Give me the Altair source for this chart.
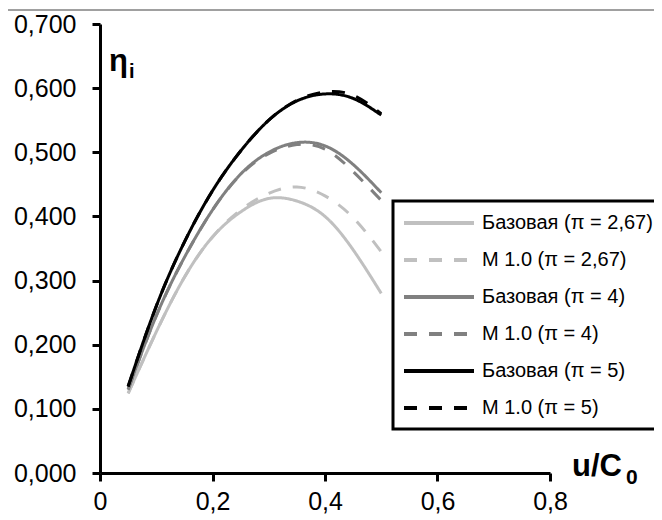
import altair as alt
import pandas as pd

# ---- data ----
u_c0 = [0.05, 0.10, 0.15, 0.20, 0.25, 0.30, 0.35, 0.40, 0.45, 0.50]

base_267 = [0.124, 0.220, 0.305, 0.368, 0.407, 0.428, 0.424, 0.400, 0.348, 0.280]
m10_267  = [0.124, 0.220, 0.305, 0.368, 0.410, 0.436, 0.446, 0.432, 0.398, 0.345]
base_4   = [0.130, 0.245, 0.336, 0.410, 0.466, 0.500, 0.515, 0.510, 0.481, 0.437]
m10_4    = [0.130, 0.245, 0.336, 0.410, 0.465, 0.498, 0.512, 0.505, 0.470, 0.425]
base_5   = [0.135, 0.260, 0.360, 0.440, 0.502, 0.550, 0.580, 0.591, 0.584, 0.558]
m10_5    = [0.135, 0.260, 0.360, 0.440, 0.502, 0.550, 0.581, 0.594, 0.589, 0.560]

series_names = [
    "Базовая (π = 2,67)",
    "M 1.0 (π = 2,67)",
    "Базовая (π = 4)",
    "M 1.0 (π = 4)",
    "Базовая (π = 5)",
    "M 1.0 (π = 5)",
]
series_values = [base_267, m10_267, base_4, m10_4, base_5, m10_5]
series_colors = ["#c0c0c0", "#c0c0c0", "#808080", "#808080", "#000000", "#000000"]
series_dashes = [[1, 0], [13, 12], [1, 0], [13, 12], [1, 0], [13, 12]]

x_ticks = [0, 0.2, 0.4, 0.6, 0.8]
y_ticks = [0.0, 0.1, 0.2, 0.3, 0.4, 0.5, 0.6, 0.7]

y_title_main, y_title_sub = "η", "i"
x_title_main, x_title_sub = "u/C", "0"

rows = []
for k, (name, vals) in enumerate(zip(series_names, series_values)):
    for xv, yv in zip(u_c0, vals):
        rows.append({"series": name, "order": k, "x": xv, "y": yv})
df = pd.DataFrame(rows)

FONT = "Liberation Sans"
W, H = 450, 449
LEG_X, LEG_Y = 293, 177

lines = alt.Chart(df).mark_line(strokeWidth=3, interpolate="natural").encode(
    x=alt.X("x:Q", scale=alt.Scale(domain=[0, 0.8], nice=False),
            axis=alt.Axis(values=x_ticks, title=None, grid=False,
                          labelExpr="datum.value == 0 ? '0' : replace(format(datum.value, '.1f'), '.', ',')",
                          domainColor="black", domainWidth=3, tickColor="black",
                          tickWidth=3, tickSize=8, labelFont=FONT, labelFontSize=25,
                          labelColor="black", labelPadding=8, labelFlush=False)),
    y=alt.Y("y:Q", scale=alt.Scale(domain=[0, 0.7], nice=False),
            axis=alt.Axis(values=y_ticks, title=None, grid=False,
                          labelExpr="replace(format(datum.value, '.3f'), '.', ',')",
                          domainColor="black", domainWidth=3, tickColor="black",
                          tickWidth=3, tickSize=8, labelFont=FONT, labelFontSize=25,
                          labelColor="black", labelPadding=16, labelFlush=False)),
    color=alt.Color("series:N", scale=alt.Scale(domain=series_names, range=series_colors),
                    sort=series_names,
                    legend=alt.Legend(orient="none", legendX=LEG_X, legendY=LEG_Y, title=None,
                                      symbolType="stroke", symbolSize=4900,
                                      symbolStrokeWidth=4, labelFont=FONT,
                                      labelFontSize=20, labelColor="black",
                                      padding=9, rowPadding=11, clipHeight=26,
                                      labelOffset=6, labelLimit=400)),
    strokeDash=alt.StrokeDash("series:N", scale=alt.Scale(domain=series_names, range=series_dashes),
                              sort=series_names, legend=None),
    order="order:Q",
    detail="series:N",
)

ytitle_df = pd.DataFrame({"t": [y_title_main]})
ysub_df = pd.DataFrame({"t": [y_title_sub]})
xtitle_df = pd.DataFrame({"t": [x_title_main]})
xsub_df = pd.DataFrame({"t": [x_title_sub]})

t1 = alt.Chart(ytitle_df).mark_text(font=FONT, fontSize=31, fontWeight="bold", align="left",
                                    baseline="alphabetic", color="black").encode(
    text="t:N", x=alt.value(9), y=alt.value(47))
t2 = alt.Chart(ysub_df).mark_text(font=FONT, fontSize=20, fontWeight="bold", align="left",
                                  baseline="alphabetic", color="black").encode(
    text="t:N", x=alt.value(29), y=alt.value(54))
t3 = alt.Chart(xtitle_df).mark_text(font=FONT, fontSize=31, fontWeight="bold", align="left",
                                    baseline="alphabetic", color="black").encode(
    text="t:N", x=alt.value(472), y=alt.value(452))
t4 = alt.Chart(xsub_df).mark_text(font=FONT, fontSize=21, fontWeight="bold", align="left",
                                  baseline="alphabetic", color="black").encode(
    text="t:N", x=alt.value(526), y=alt.value(460))

# outer grey frame of the original picture (its right and bottom edges fall outside)
frame = alt.Chart(ytitle_df).mark_rect(
    fill=None, stroke="#a0a0a0", strokeWidth=2,
    xOffset=-94, x2Offset=-94, yOffset=-14, y2Offset=-14
).encode(x=alt.value(0), x2=alt.value(800), y=alt.value(0), y2=alt.value(700))

legend_box = alt.Chart(ytitle_df).mark_rect(fill="white", stroke="black", strokeWidth=3).encode(
    x=alt.value(LEG_X), x2=alt.value(LEG_X + 400),
    y=alt.value(LEG_Y), y2=alt.value(LEG_Y + 228))

chart = alt.layer(frame, legend_box, lines, t1, t2, t3, t4).properties(
    width=W, height=H,
    autosize=alt.AutoSizeParams(type="none"),
    padding={"left": 92, "top": 16, "right": 104, "bottom": 47},
    background="white",
).configure_view(stroke=None)

chart.save("out.html", embed_options={"renderer": "svg", "actions": False})
